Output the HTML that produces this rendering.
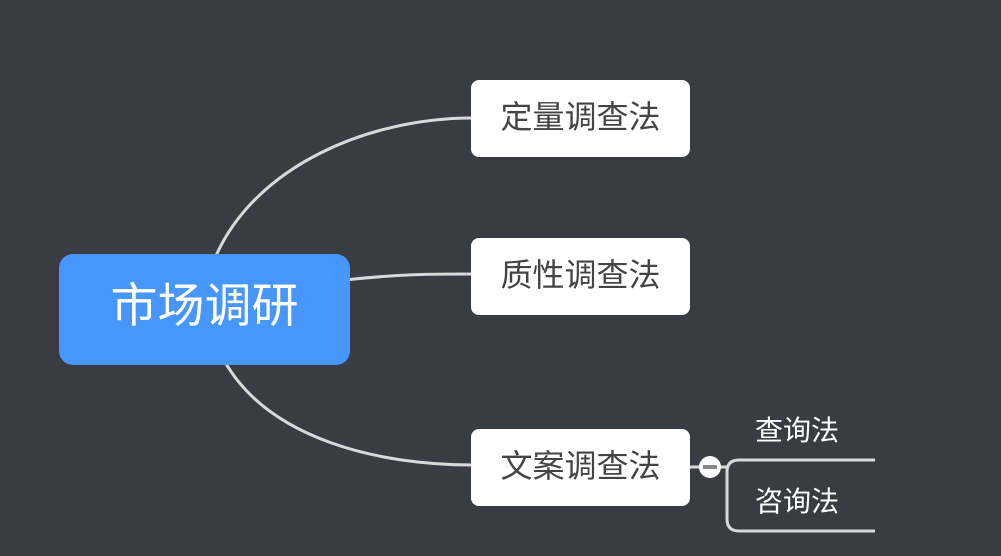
<!DOCTYPE html>
<html><head><meta charset="utf-8"><style>
html,body{margin:0;padding:0}
body{width:1001px;height:556px;background:#393c42;position:relative;overflow:hidden;font-family:"Liberation Sans","Noto Sans CJK SC",sans-serif}
.n{position:absolute;left:471px;width:219px;height:77px;background:#fff;border-radius:8px;color:#444;font-size:32px;display:flex;align-items:center;justify-content:center;box-sizing:border-box;padding-bottom:8px}
.c{position:absolute;left:59px;top:254px;width:291px;height:111px;background:#4696fc;border-radius:14px;color:#fff;font-size:47px;display:flex;align-items:center;justify-content:center;box-sizing:border-box;padding-bottom:16px}
.t{position:absolute;color:#fff;font-size:28px;line-height:28px}
</style></head><body>
<svg width="1001" height="556" style="position:absolute;left:0;top:0">
<g fill="none" stroke="#d9d9d9" stroke-width="3">
<path d="M215,258 C255,165 370,118 472,118"/>
<path d="M345,280 C400,274 430,274 472,274"/>
<path d="M225,362 C270,440 380,465 472,465"/>
<path d="M690,467 L727,467"/>
<path d="M875,460 L739,460 Q727,460 727,472 L727,519 Q727,531 739,531 L875,531"/>
</g>
<circle cx="710" cy="467" r="11" fill="#fff"/>
<rect x="703" y="465" width="14" height="4" fill="#888"/>
</svg>
<div class="c">市场调研</div>
<div class="n" style="top:80px">定量调查法</div>
<div class="n" style="top:238px">质性调查法</div>
<div class="n" style="top:429px">文案调查法</div>
<div class="t" style="left:755px;top:417px">查询法</div>
<div class="t" style="left:755px;top:488px">咨询法</div>
</body></html>
